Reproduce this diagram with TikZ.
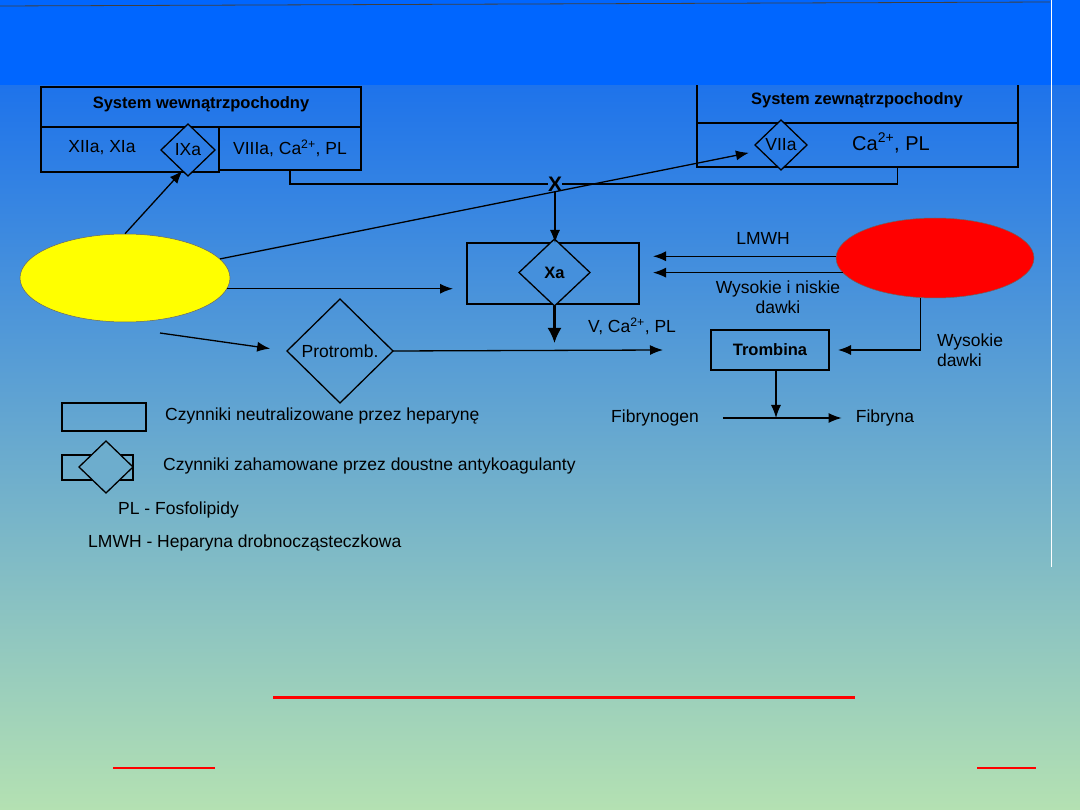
\documentclass[tikz,border=0pt]{standalone}
\usepackage{fontspec}
\setmainfont{Liberation Sans}
\usetikzlibrary{arrows.meta,positioning,shapes.geometric}
\definecolor{bandblue}{HTML}{0066FF}
\definecolor{bgtop}{RGB}{30,115,235}
\definecolor{bgbot}{RGB}{180,225,178}
\definecolor{eyellow}{HTML}{FFFF00}
\definecolor{ered}{HTML}{FF0000}

\begin{document}
\begin{tikzpicture}[x=1pt,y=-1pt,
  font=\fontsize{17.5}{20}\selectfont,
  box/.style={draw,line width=1.3pt,inner sep=0pt,outer sep=0pt},
  dia/.style={draw,diamond,line width=1.3pt,inner sep=0pt,outer sep=0pt},
  blob/.style={ellipse,draw=black!60,line width=0.5pt},
  lbl/.style={inner sep=0pt,align=center},
  hdr/.style={lbl,font=\bfseries\fontsize{16.5}{19}\selectfont},
  ln/.style={line width=1.4pt},
  ar/.style={-{Latex[length=13pt,width=10pt]},line width=1.3pt},
  bigar/.style={-{Latex[length=15pt,width=14pt]},line width=2.2pt}]

\useasboundingbox (0,0) rectangle (1080,810);
\shade[top color=bgtop,bottom color=bgbot] (0,85) rectangle (1080,810);

% system wewnatrzpochodny
\node[box,minimum width=320pt,minimum height=40pt] (inthead) at (201,107) {};
\node[hdr] (inttitle) at (201,104) {System wewnątrzpochodny};
\node[box,minimum width=178pt,minimum height=45pt] (intleft) at (130,149.5) {};
\node[box,minimum width=142pt,minimum height=43pt] (intright) at (290,148.5) {VIIIa, Ca\textsuperscript{2+}, PL};
\node[lbl] (xiia) at (102,148) {XIIa, XIa};
\node[dia,fill=bgbot!9!bgtop,minimum width=54pt,minimum height=52pt] (ixa) at (188,150) {IXa};

% system zewnatrzpochodny
\node[box,minimum width=321pt,minimum height=53pt] (exthead) at (857.5,96.5) {};
\node[hdr] (exttitle) at (857,100) {System zewnątrzpochodny};
\node[box,minimum width=321pt,minimum height=44pt] (extrow) at (857.5,145) {};
\node[dia,fill=bgbot!8!bgtop,minimum width=52pt,minimum height=50pt] (viia) at (781,145) {VIIa};
\node[lbl,font=\fontsize{20}{23}\selectfont] (capl) at (891,143) {Ca\textsuperscript{2+}, PL};

\node[lbl,font=\bfseries\fontsize{21}{24}\selectfont] (cross) at (555,184) {X};

% czynnik X
\node[box,minimum width=172pt,minimum height=61pt] (xabox) at (553,273.5) {};
\node[dia,fill=bgbot!26!bgtop,minimum width=71pt,minimum height=67pt,
  font=\bfseries\fontsize{16.5}{19}\selectfont] (xa) at (554.5,272.5) {Xa};
\coordinate (vend) at (554.5,343);
\node[lbl,anchor=west] (vcapl) at (588,326) {V, Ca\textsuperscript{2+}, PL};

\node[dia,minimum width=106pt,minimum height=104pt] (pro) at (340,351) {Protromb.};
\coordinate (pend) at (663,350);
\coordinate (pstart) at (160,333);

\node[box,minimum width=118pt,minimum height=40pt,
  font=\bfseries\fontsize{16.5}{19}\selectfont] (trom) at (770,350) {Trombina};
\coordinate (tdown) at ([xshift=6pt]trom.south);

\node[blob,fill=eyellow,minimum width=210pt,minimum height=88pt] (vka) at (125,278) {};
\node[blob,fill=ered,minimum width=198pt,minimum height=80pt] (hep) at (935,258) {};

\node[lbl] (lmwh) at (763,238) {LMWH};
\node[lbl] (dawki) at (778,297) {Wysokie i niskie\\dawki};
\node[lbl,align=left] (wys) at (970,350) {Wysokie\\dawki};

\node[lbl] (fgen) at (655,418) {Fibrynogen};
\node[lbl] (fbry) at (885,418) {Fibryna};

% legenda
\node[box,minimum width=84pt,minimum height=28pt] (legrect) at (104,417) {};
\node[lbl,anchor=west] (legtxt1) at (165,416) {Czynniki neutralizowane przez heparynę};
\node[box,minimum width=71pt,minimum height=25pt] (legrect2) at (97.5,467.5) {};
\node[dia,fill=bgbot!53!bgtop,minimum width=54pt,minimum height=52pt] (legdia) at (106,467) {};
\node[lbl,anchor=west] (legtxt2) at (163,466) {Czynniki zahamowane przez doustne antykoagulanty};
\node[lbl,anchor=west] (legpl) at (118,510) {PL - Fosfolipidy};
\node[lbl,anchor=west] (leglmwh) at (88,543) {LMWH - Heparyna drobnocząsteczkowa};

% polaczenia
\draw[ln] (intright.south) |- (cross.west);
\draw[ln] ([xshift=40pt]extrow.south) |- (cross.east);
\draw[ar] (cross.south) -- (cross.south |- xabox.north);
\draw[bigar] (xa.south) -- (vend);
\draw[ar] (pro.east) -- (pend);
\draw[ar] (vka.north) -- (ixa.255);
\draw[ar,shorten >=12pt] (vka) -- (viia.195);
\draw[ar,shorten >=14pt] (vka.-6) -- (vka.-6 -| xabox.west);
\draw[ar,shorten >=17pt] (pstart) -- (pro.west);
\draw[ar,shorten >=14pt] (hep.179) -- (hep.179 -| xabox.east);
\draw[ar,shorten >=14pt] (hep.189) -- (hep.189 -| xabox.east);
\draw[ar,shorten >=9pt] (hep.250) |- (trom.east);
\draw[ar] (tdown) -- (tdown |- fgen.center);
\draw[ar,shorten <=24pt,shorten >=14pt] (fgen.east) -- (fbry.west);

% ozdobniki slajdu
\fill[bandblue] (0,0) rectangle (1080,85);
\draw[black!75,line width=0.8pt] (0,6) -- (1050,2);
\draw[white,line width=1pt] (1051,0) -- (1051,567);
\draw[red,line width=3pt] (273,697) -- (855,697);
\draw[red,line width=1.2pt] (113,768) -- (215,768);
\draw[red,line width=1.2pt] (977,768) -- (1036,768);
\end{tikzpicture}
\end{document}
